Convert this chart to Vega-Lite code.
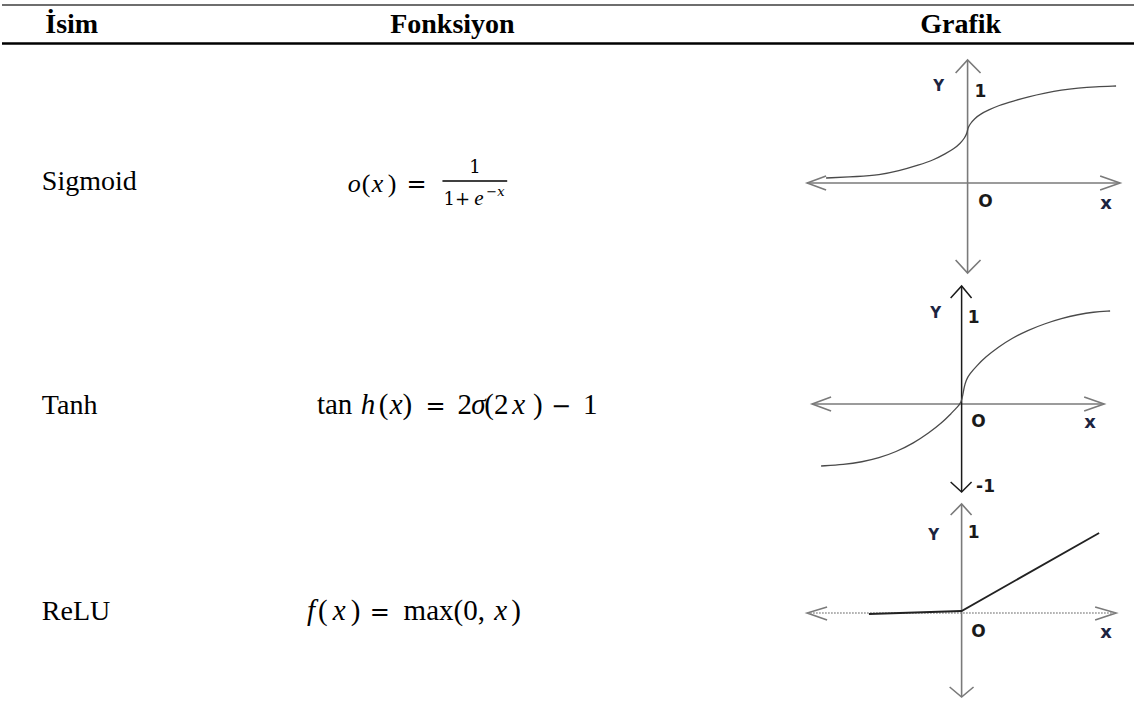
{
  "$schema": "https://vega.github.io/schema/vega-lite/v6.json",
  "width": 1136,
  "height": 711,
  "padding": 0,
  "autosize": {"type": "fit", "contains": "padding"},
  "background": "white",
  "config": {"view": {"stroke": null}},
  "encoding": {
    "x": {"field": "x", "type": "quantitative", "scale": {"domain": [0, 1136], "nice": false, "zero": false}, "axis": null},
    "y": {"field": "y", "type": "quantitative", "scale": {"domain": [0, 711], "nice": false, "zero": false, "reverse": true}, "axis": null}
  },
  "layer": [
    {
      "data": {"values": [{"x": 0, "x2": 1136, "y": 5}]},
      "mark": {"type": "rule", "color": "#6e6e6e", "strokeWidth": 2},
      "encoding": {"x2": {"field": "x2"}}
    },
    {
      "data": {"values": [{"x": 0, "x2": 1136, "y": 43.5}]},
      "mark": {"type": "rule", "color": "#000000", "strokeWidth": 2.6},
      "encoding": {"x2": {"field": "x2"}}
    },
    {
      "data": {"values": [{"x": 442, "x2": 507, "y": 181}]},
      "mark": {"type": "rule", "color": "#000000", "strokeWidth": 1.4},
      "encoding": {"x2": {"field": "x2"}}
    },
    {
      "data": {"values": [
        {"g": "s_h", "i": 0, "x": 808, "y": 183}, {"g": "s_h", "i": 1, "x": 1122, "y": 183},
        {"g": "s_la", "i": 0, "x": 827, "y": 176}, {"g": "s_la", "i": 1, "x": 808, "y": 183}, {"g": "s_la", "i": 2, "x": 827, "y": 190},
        {"g": "s_ra", "i": 0, "x": 1102, "y": 176}, {"g": "s_ra", "i": 1, "x": 1122, "y": 183}, {"g": "s_ra", "i": 2, "x": 1102, "y": 190},
        {"g": "s_v", "i": 0, "x": 969, "y": 60}, {"g": "s_v", "i": 1, "x": 969, "y": 273},
        {"g": "s_ta", "i": 0, "x": 957, "y": 73}, {"g": "s_ta", "i": 1, "x": 969, "y": 60}, {"g": "s_ta", "i": 2, "x": 982, "y": 73},
        {"g": "s_ba", "i": 0, "x": 957, "y": 260}, {"g": "s_ba", "i": 1, "x": 969, "y": 273}, {"g": "s_ba", "i": 2, "x": 982, "y": 260},
        {"g": "t_h", "i": 0, "x": 813, "y": 404}, {"g": "t_h", "i": 1, "x": 1106, "y": 404},
        {"g": "t_la", "i": 0, "x": 832, "y": 397}, {"g": "t_la", "i": 1, "x": 813, "y": 404}, {"g": "t_la", "i": 2, "x": 832, "y": 411},
        {"g": "t_ra", "i": 0, "x": 1086, "y": 397}, {"g": "t_ra", "i": 1, "x": 1106, "y": 404}, {"g": "t_ra", "i": 2, "x": 1086, "y": 411},
        {"g": "r_la", "i": 0, "x": 828, "y": 607}, {"g": "r_la", "i": 1, "x": 808, "y": 613}, {"g": "r_la", "i": 2, "x": 828, "y": 620},
        {"g": "r_ra", "i": 0, "x": 1097, "y": 607}, {"g": "r_ra", "i": 1, "x": 1118, "y": 613}, {"g": "r_ra", "i": 2, "x": 1097, "y": 620},
        {"g": "r_v", "i": 0, "x": 963, "y": 504}, {"g": "r_v", "i": 1, "x": 963, "y": 697},
        {"g": "r_ta", "i": 0, "x": 952, "y": 515}, {"g": "r_ta", "i": 1, "x": 963, "y": 504}, {"g": "r_ta", "i": 2, "x": 973, "y": 515},
        {"g": "r_ba", "i": 0, "x": 951, "y": 687}, {"g": "r_ba", "i": 1, "x": 963, "y": 697}, {"g": "r_ba", "i": 2, "x": 975, "y": 687}
      ]},
      "mark": {"type": "line", "color": "#7a7a7a", "strokeWidth": 1.6},
      "encoding": {"detail": {"field": "g"}, "order": {"field": "i", "type": "quantitative"}}
    },
    {
      "data": {"values": [
        {"g": "t_v", "i": 0, "x": 963, "y": 286}, {"g": "t_v", "i": 1, "x": 963, "y": 492},
        {"g": "t_ta", "i": 0, "x": 952, "y": 298}, {"g": "t_ta", "i": 1, "x": 963, "y": 286}, {"g": "t_ta", "i": 2, "x": 973, "y": 298},
        {"g": "t_ba", "i": 0, "x": 952, "y": 482}, {"g": "t_ba", "i": 1, "x": 963, "y": 492}, {"g": "t_ba", "i": 2, "x": 973, "y": 482}
      ]},
      "mark": {"type": "line", "color": "#1a1a1a", "strokeWidth": 1.5},
      "encoding": {"detail": {"field": "g"}, "order": {"field": "i", "type": "quantitative"}}
    },
    {
      "data": {"values": [
        {"g": "r_h", "i": 0, "x": 808, "y": 613}, {"g": "r_h", "i": 1, "x": 1118, "y": 613}
      ]},
      "mark": {"type": "line", "color": "#8a8a8a", "strokeWidth": 1.3, "strokeDash": [1.5, 1.5]},
      "encoding": {"detail": {"field": "g"}, "order": {"field": "i", "type": "quantitative"}}
    },
    {
      "data": {"values": [
        {"g": "sig", "i": 0, "x": 827, "y": 178}, {"g": "sig", "i": 1, "x": 860, "y": 176.5},
        {"g": "sig", "i": 2, "x": 880, "y": 175}, {"g": "sig", "i": 3, "x": 900, "y": 171},
        {"g": "sig", "i": 4, "x": 920, "y": 165}, {"g": "sig", "i": 5, "x": 935, "y": 160},
        {"g": "sig", "i": 6, "x": 947, "y": 153.5}, {"g": "sig", "i": 7, "x": 955, "y": 149},
        {"g": "sig", "i": 8, "x": 962, "y": 143}, {"g": "sig", "i": 9, "x": 966, "y": 138},
        {"g": "sig", "i": 10, "x": 968.5, "y": 133}, {"g": "sig", "i": 11, "x": 969.3, "y": 128},
        {"g": "sig", "i": 12, "x": 971.5, "y": 124}, {"g": "sig", "i": 13, "x": 976, "y": 118.5},
        {"g": "sig", "i": 14, "x": 982, "y": 114}, {"g": "sig", "i": 15, "x": 990, "y": 110},
        {"g": "sig", "i": 16, "x": 1000, "y": 105.5}, {"g": "sig", "i": 17, "x": 1015, "y": 101},
        {"g": "sig", "i": 18, "x": 1030, "y": 96.7}, {"g": "sig", "i": 19, "x": 1047, "y": 93},
        {"g": "sig", "i": 20, "x": 1063, "y": 90}, {"g": "sig", "i": 21, "x": 1080, "y": 88},
        {"g": "sig", "i": 22, "x": 1097, "y": 86.7}, {"g": "sig", "i": 23, "x": 1118, "y": 86},
        {"g": "tan", "i": 0, "x": 822, "y": 466}, {"g": "tan", "i": 1, "x": 845, "y": 464.5},
        {"g": "tan", "i": 2, "x": 863, "y": 462}, {"g": "tan", "i": 3, "x": 880, "y": 458},
        {"g": "tan", "i": 4, "x": 897, "y": 452}, {"g": "tan", "i": 5, "x": 915, "y": 443},
        {"g": "tan", "i": 6, "x": 930, "y": 433}, {"g": "tan", "i": 7, "x": 943, "y": 423},
        {"g": "tan", "i": 8, "x": 953, "y": 413}, {"g": "tan", "i": 9, "x": 959, "y": 407},
        {"g": "tan", "i": 10, "x": 962.7, "y": 402}, {"g": "tan", "i": 11, "x": 964.2, "y": 395},
        {"g": "tan", "i": 12, "x": 965.6, "y": 387}, {"g": "tan", "i": 13, "x": 967.5, "y": 380},
        {"g": "tan", "i": 14, "x": 971, "y": 374}, {"g": "tan", "i": 15, "x": 978, "y": 366},
        {"g": "tan", "i": 16, "x": 987, "y": 357}, {"g": "tan", "i": 17, "x": 1000, "y": 347},
        {"g": "tan", "i": 18, "x": 1013, "y": 338.5}, {"g": "tan", "i": 19, "x": 1030, "y": 330},
        {"g": "tan", "i": 20, "x": 1047, "y": 323.5}, {"g": "tan", "i": 21, "x": 1063, "y": 318.5},
        {"g": "tan", "i": 22, "x": 1080, "y": 314.5}, {"g": "tan", "i": 23, "x": 1095, "y": 312},
        {"g": "tan", "i": 24, "x": 1112, "y": 311}
      ]},
      "mark": {"type": "line", "color": "#4a4a4a", "strokeWidth": 1.3, "interpolate": "basis"},
      "encoding": {"detail": {"field": "g"}, "order": {"field": "i", "type": "quantitative"}}
    },
    {
      "data": {"values": [
        {"g": "relu", "i": 0, "x": 870, "y": 614}, {"g": "relu", "i": 1, "x": 963, "y": 611}, {"g": "relu", "i": 2, "x": 1101, "y": 533}
      ]},
      "mark": {"type": "line", "color": "#222222", "strokeWidth": 1.8},
      "encoding": {"detail": {"field": "g"}, "order": {"field": "i", "type": "quantitative"}}
    },
    {
      "data": {"values": [
        {"x": 70, "y": 33, "t": "İsim"},
        {"x": 452, "y": 33, "t": "Fonksiyon"},
        {"x": 962, "y": 33, "t": "Grafik"}
      ]},
      "mark": {"type": "text", "font": "Liberation Serif, Times New Roman, serif", "fontWeight": "bold", "fontSize": 28, "align": "center", "baseline": "alphabetic", "color": "#000000"},
      "encoding": {"text": {"field": "t"}}
    },
    {
      "data": {"values": [
        {"x": 40, "y": 190, "t": "Sigmoid"},
        {"x": 40, "y": 414, "t": "Tanh"},
        {"x": 40, "y": 620, "t": "ReLU"}
      ]},
      "mark": {"type": "text", "font": "Liberation Serif, Times New Roman, serif", "fontSize": 28, "align": "left", "baseline": "alphabetic", "color": "#000000"},
      "encoding": {"text": {"field": "t"}}
    },
    {
      "data": {"values": [
        {"x": 316, "y": 414, "t": "tan"},
        {"x": 378, "y": 414, "t": "("},
        {"x": 402, "y": 414, "t": ")"},
        {"x": 457, "y": 414, "t": "2"},
        {"x": 484, "y": 414, "t": "(2"},
        {"x": 533, "y": 414, "t": ")"},
        {"x": 583, "y": 414, "t": "1"},
        {"x": 317, "y": 620, "t": "("},
        {"x": 350, "y": 620, "t": ")"},
        {"x": 403, "y": 620, "t": "max(0,"},
        {"x": 511, "y": 620, "t": ")"}
      ]},
      "mark": {"type": "text", "font": "Liberation Serif, Times New Roman, serif", "fontSize": 29, "align": "left", "baseline": "alphabetic", "color": "#000000"},
      "encoding": {"text": {"field": "t"}}
    },
    {
      "data": {"values": [
        {"x": 360, "y": 414, "t": "h"},
        {"x": 389, "y": 414, "t": "x"},
        {"x": 471, "y": 414, "t": "σ"},
        {"x": 512, "y": 414, "t": "x"},
        {"x": 306, "y": 620, "t": "f"},
        {"x": 332, "y": 620, "t": "x"},
        {"x": 494, "y": 620, "t": "x"}
      ]},
      "mark": {"type": "text", "font": "Liberation Serif, Times New Roman, serif", "fontStyle": "italic", "fontSize": 29, "align": "left", "baseline": "alphabetic", "color": "#000000"},
      "encoding": {"text": {"field": "t"}}
    },
    {
      "data": {"values": [
        {"x": 361, "y": 192, "t": "("},
        {"x": 387, "y": 192, "t": ")"}
      ]},
      "mark": {"type": "text", "font": "Liberation Serif, Times New Roman, serif", "fontSize": 26, "align": "left", "baseline": "alphabetic", "color": "#000000"},
      "encoding": {"text": {"field": "t"}}
    },
    {
      "data": {"values": [
        {"x": 347, "y": 192, "t": "o"},
        {"x": 371, "y": 192, "t": "x"}
      ]},
      "mark": {"type": "text", "font": "Liberation Serif, Times New Roman, serif", "fontStyle": "italic", "fontSize": 26, "align": "left", "baseline": "alphabetic", "color": "#000000"},
      "encoding": {"text": {"field": "t"}}
    },
    {
      "data": {"values": [
        {"x": 406, "y": 192, "t": "="},
        {"x": 425, "y": 414, "t": "="},
        {"x": 551, "y": 414, "t": "−"},
        {"x": 369, "y": 620, "t": "="}
      ]},
      "mark": {"type": "text", "font": "DejaVu Serif", "fontSize": 24, "align": "left", "baseline": "alphabetic", "color": "#000000"},
      "encoding": {"text": {"field": "t"}}
    },
    {
      "data": {"values": [
        {"x": 469, "y": 173, "t": "1"},
        {"x": 443, "y": 205, "t": "1+"}
      ]},
      "mark": {"type": "text", "font": "DejaVu Serif", "fontSize": 18, "align": "left", "baseline": "alphabetic", "color": "#000000"},
      "encoding": {"text": {"field": "t"}}
    },
    {
      "data": {"values": [
        {"x": 474, "y": 205, "t": "e"}
      ]},
      "mark": {"type": "text", "font": "Liberation Serif, Times New Roman, serif", "fontStyle": "italic", "fontSize": 21, "align": "left", "baseline": "alphabetic", "color": "#000000"},
      "encoding": {"text": {"field": "t"}}
    },
    {
      "data": {"values": [
        {"x": 486, "y": 196, "t": "−x"}
      ]},
      "mark": {"type": "text", "font": "DejaVu Serif", "fontStyle": "italic", "fontSize": 13, "align": "left", "baseline": "alphabetic", "color": "#000000"},
      "encoding": {"text": {"field": "t"}}
    },
    {
      "data": {"values": [
        {"x": 940, "y": 86, "t": "Y"},
        {"x": 937, "y": 313, "t": "Y"},
        {"x": 935, "y": 535, "t": "Y"}
      ]},
      "mark": {"type": "text", "font": "DejaVu Sans", "fontWeight": "bold", "fontSize": 15, "align": "center", "baseline": "middle", "color": "#1c2440"},
      "encoding": {"text": {"field": "t"}}
    },
    {
      "data": {"values": [
        {"x": 1108, "y": 204, "t": "x"},
        {"x": 1092, "y": 423, "t": "x"},
        {"x": 1108, "y": 633, "t": "x"}
      ]},
      "mark": {"type": "text", "font": "DejaVu Sans", "fontWeight": "bold", "fontSize": 18, "align": "center", "baseline": "middle", "color": "#1c2440"},
      "encoding": {"text": {"field": "t"}}
    },
    {
      "data": {"values": [
        {"x": 987, "y": 202, "t": "O"},
        {"x": 980, "y": 422, "t": "O"},
        {"x": 980, "y": 632, "t": "O"},
        {"x": 982, "y": 92, "t": "1"},
        {"x": 975, "y": 318, "t": "1"},
        {"x": 975, "y": 533, "t": "1"},
        {"x": 987, "y": 487, "t": "-1"}
      ]},
      "mark": {"type": "text", "font": "DejaVu Sans", "fontWeight": "bold", "fontSize": 17, "align": "center", "baseline": "middle", "color": "#1a1a1a"},
      "encoding": {"text": {"field": "t"}}
    }
  ]
}
